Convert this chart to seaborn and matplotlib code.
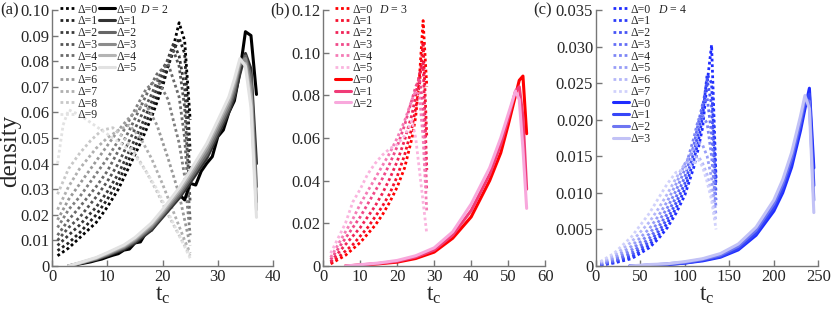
"""
Waiting-time densities for D = 2, 3, 4 (dotted and solid families, one panel each).
"""

import matplotlib
matplotlib.use("Agg")
import matplotlib.pyplot as plt
import seaborn as sns

# ---------------- data: panel (a), D = 2 ----------------
a_dot_x = [
    [1, 3, 5, 8, 10, 12, 14, 16, 18, 20, 21, 22, 23, 24, 25],
    [1, 3, 5, 8, 10, 12, 14, 16, 18, 20, 22, 23, 24, 25],
    [1, 3, 5, 8, 10, 12, 14, 16, 18, 20, 22, 23, 24, 25],
    [1, 3, 5, 8, 10, 12, 14, 16, 18, 20, 22, 23, 24, 25],
    [1, 3, 5, 8, 10, 12, 14, 16, 18, 19, 21, 23, 24, 25],
    [1, 3, 5, 8, 10, 12, 14, 16, 17, 19, 21, 23, 24, 25],
    [1, 3, 5, 8, 10, 12, 14, 16, 17, 19, 21, 23, 24, 25],
    [1, 3, 5, 8, 10, 12, 14, 16, 18, 20, 22, 24, 25],
    [1, 3, 5, 7, 9, 11, 13, 15, 17, 19, 21, 23, 25],
    [1, 2, 3, 5, 7, 9, 11, 13, 15, 17, 19, 21, 23, 25],
]
a_dot_y = [
    [0.004, 0.007, 0.011, 0.017, 0.023, 0.030, 0.039, 0.048, 0.058, 0.070, 0.078, 0.086, 0.095, 0.088, 0.057],
    [0.006, 0.009, 0.013, 0.020, 0.026, 0.033, 0.042, 0.051, 0.061, 0.072, 0.084, 0.089, 0.083, 0.045],
    [0.008, 0.012, 0.016, 0.023, 0.029, 0.036, 0.045, 0.054, 0.064, 0.075, 0.087, 0.082, 0.070, 0.035],
    [0.010, 0.015, 0.019, 0.027, 0.033, 0.040, 0.049, 0.058, 0.067, 0.077, 0.084, 0.078, 0.062, 0.025],
    [0.012, 0.018, 0.023, 0.031, 0.037, 0.045, 0.053, 0.062, 0.071, 0.075, 0.079, 0.066, 0.050, 0.018],
    [0.015, 0.022, 0.027, 0.036, 0.042, 0.049, 0.057, 0.065, 0.069, 0.073, 0.065, 0.048, 0.035, 0.012],
    [0.018, 0.026, 0.032, 0.041, 0.047, 0.053, 0.058, 0.062, 0.063, 0.055, 0.042, 0.028, 0.018, 0.008],
    [0.022, 0.031, 0.038, 0.046, 0.050, 0.053, 0.055, 0.050, 0.042, 0.032, 0.021, 0.010, 0.005],
    [0.028, 0.038, 0.044, 0.049, 0.053, 0.054, 0.050, 0.044, 0.037, 0.029, 0.020, 0.012, 0.004],
    [0.040, 0.055, 0.061, 0.059, 0.056, 0.053, 0.050, 0.047, 0.043, 0.037, 0.030, 0.021, 0.012, 0.003],
]
a_solid0_x = list(range(3, 38))
a_solid0_y = [0.0000, 0.0004, 0.0008, 0.0012, 0.0016, 0.0022, 0.0027, 0.0035, 0.0042, 0.0048,
              0.0062, 0.0066, 0.0090, 0.0094, 0.0130, 0.0140, 0.0170, 0.0195, 0.0225, 0.0245,
              0.0280, 0.0258, 0.0323, 0.0316, 0.0370, 0.0401, 0.0427, 0.0505, 0.0531, 0.0600,
              0.0645, 0.0760, 0.0915, 0.0900, 0.0670]
a_solid_x = [3, 5, 8, 10, 13, 15, 18, 20, 23, 25, 28, 30, 32, 33, 34, 35, 36, 37]
a_solid_y = [
    [0.0, 0.0010, 0.0025, 0.0040, 0.0065, 0.0090, 0.0140, 0.0190, 0.0265, 0.0325, 0.0420, 0.0510, 0.0600, 0.0660, 0.0750, 0.0830, 0.0770, 0.0400],
    [0.0, 0.0010, 0.0027, 0.0043, 0.0070, 0.0096, 0.0148, 0.0198, 0.0275, 0.0338, 0.0435, 0.0525, 0.0615, 0.0680, 0.0780, 0.0820, 0.0740, 0.0310],
    [0.0, 0.0011, 0.0029, 0.0046, 0.0074, 0.0101, 0.0155, 0.0205, 0.0285, 0.0350, 0.0450, 0.0540, 0.0630, 0.0700, 0.0790, 0.0810, 0.0700, 0.0250],
    [0.0, 0.0012, 0.0031, 0.0049, 0.0078, 0.0106, 0.0162, 0.0212, 0.0295, 0.0360, 0.0465, 0.0555, 0.0645, 0.0715, 0.0800, 0.0790, 0.0660, 0.0220],
    [0.0, 0.0013, 0.0033, 0.0052, 0.0082, 0.0111, 0.0168, 0.0220, 0.0305, 0.0372, 0.0478, 0.0568, 0.0660, 0.0730, 0.0810, 0.0780, 0.0620, 0.0190],
]
a_dot_colors = ["#000000", "#222222", "#3a3a3a", "#555555", "#6a6a6a",
                "#808080", "#999999", "#b0b0b0", "#c8c8c8", "#e2e2e2"]
a_solid_colors = ["#000000", "#333333", "#666666", "#8c8c8c", "#b4b4b4", "#e2e2e2"]

# ---------------- data: panel (b), D = 3 ----------------
b_dot_x = [2, 4, 6, 8, 10, 12, 14, 16, 18, 20, 22, 24, 25, 26, 27, 28]
b_dot_y = [
    [0.001, 0.003, 0.005, 0.008, 0.011, 0.015, 0.019, 0.024, 0.030, 0.037, 0.046, 0.060, 0.070, 0.088, 0.115, 0.084],
    [0.0015, 0.004, 0.007, 0.010, 0.014, 0.018, 0.023, 0.028, 0.034, 0.042, 0.052, 0.065, 0.074, 0.085, 0.105, 0.060],
    [0.002, 0.006, 0.010, 0.014, 0.018, 0.023, 0.028, 0.034, 0.041, 0.049, 0.059, 0.071, 0.080, 0.090, 0.095, 0.045],
    [0.003, 0.008, 0.013, 0.018, 0.023, 0.029, 0.035, 0.041, 0.048, 0.056, 0.066, 0.078, 0.084, 0.088, 0.075, 0.035],
    [0.004, 0.010, 0.016, 0.022, 0.029, 0.035, 0.041, 0.047, 0.053, 0.060, 0.068, 0.078, 0.082, 0.080, 0.060, 0.025],
    [0.006, 0.013, 0.020, 0.030, 0.036, 0.043, 0.048, 0.052, 0.055, 0.057, 0.061, 0.068, 0.060, 0.045, 0.030, 0.015],
]
b_solid_x = [6, 10, 15, 20, 25, 30, 35, 40, 45, 48, 50, 52, 53, 54, 55]
b_solid_y = [
    [0, 0.0004, 0.0010, 0.0018, 0.0035, 0.0065, 0.0130, 0.0230, 0.0400, 0.0530, 0.0660, 0.0800, 0.0870, 0.0890, 0.0620],
    [0, 0.0005, 0.0012, 0.0022, 0.0042, 0.0075, 0.0145, 0.0260, 0.0430, 0.0570, 0.0690, 0.0820, 0.0840, 0.0700, 0.0360],
    [0, 0.0006, 0.0014, 0.0026, 0.0048, 0.0085, 0.0160, 0.0290, 0.0460, 0.0600, 0.0710, 0.0820, 0.0780, 0.0550, 0.0270],
]
b_dot_colors = ["#ff0000", "#f5102e", "#f02458", "#f04a8a", "#f47cb6", "#fab4de"]
b_solid_colors = ["#ff0000", "#f03c78", "#f8a8dc"]

# ---------------- data: panel (c), D = 4 ----------------
c_dot_x = [5, 20, 40, 60, 70, 80, 90, 100, 110, 115, 120, 125, 130, 135]
c_dot_y = [
    [0.0001, 0.0004, 0.0010, 0.0025, 0.0037, 0.0052, 0.0072, 0.0097, 0.0135, 0.0160, 0.0190, 0.0250, 0.0302, 0.0120],
    [0.0001, 0.0005, 0.0012, 0.0029, 0.0042, 0.0058, 0.0079, 0.0105, 0.0145, 0.0170, 0.0205, 0.0262, 0.0250, 0.0110],
    [0.0002, 0.0006, 0.0015, 0.0033, 0.0047, 0.0064, 0.0086, 0.0113, 0.0155, 0.0182, 0.0218, 0.0255, 0.0220, 0.0100],
    [0.0002, 0.0007, 0.0018, 0.0038, 0.0053, 0.0071, 0.0094, 0.0122, 0.0165, 0.0195, 0.0222, 0.0230, 0.0180, 0.0090],
    [0.0003, 0.0009, 0.0022, 0.0044, 0.0060, 0.0079, 0.0103, 0.0132, 0.0175, 0.0200, 0.0205, 0.0195, 0.0150, 0.0080],
    [0.0004, 0.0011, 0.0027, 0.0051, 0.0068, 0.0088, 0.0112, 0.0140, 0.0160, 0.0170, 0.0165, 0.0150, 0.0120, 0.0070],
    [0.0005, 0.0014, 0.0033, 0.0060, 0.0078, 0.0098, 0.0120, 0.0140, 0.0148, 0.0150, 0.0140, 0.0125, 0.0100, 0.0060],
    [0.0006, 0.0017, 0.0040, 0.0072, 0.0092, 0.0112, 0.0128, 0.0132, 0.0140, 0.0146, 0.0135, 0.0115, 0.0090, 0.0050],
]
c_solid_x = [38, 60, 80, 100, 120, 140, 160, 180, 200, 210, 220, 230, 235, 240, 245]
c_solid_y = [
    [0, 0.0001, 0.0002, 0.0004, 0.0007, 0.0012, 0.0022, 0.0042, 0.0075, 0.0100, 0.0135, 0.0185, 0.0215, 0.0243, 0.0134],
    [0, 0.0001, 0.0002, 0.0004, 0.0008, 0.0013, 0.0024, 0.0045, 0.0080, 0.0106, 0.0142, 0.0192, 0.0222, 0.0235, 0.0110],
    [0, 0.0001, 0.0003, 0.0005, 0.0009, 0.0015, 0.0027, 0.0049, 0.0085, 0.0112, 0.0148, 0.0198, 0.0228, 0.0225, 0.0090],
    [0, 0.0002, 0.0003, 0.0006, 0.0010, 0.0017, 0.0030, 0.0053, 0.0090, 0.0118, 0.0155, 0.0205, 0.0233, 0.0215, 0.0073],
]
c_dot_colors = ["#1f2cff", "#2c3cfa", "#4654f6", "#636ef6", "#7d86f6", "#989ef7", "#b4b7f9", "#d0d1fb"]
c_solid_colors = ["#1f2cff", "#3646f8", "#6e76f2", "#c2c2f6"]

# ---------------- style ----------------
sns.set_style("ticks")
plt.rcParams["font.family"] = "serif"
plt.rcParams["font.serif"] = ["Liberation Serif", "DejaVu Serif"]
plt.rcParams["mathtext.fontset"] = "custom"
plt.rcParams["mathtext.rm"] = "Liberation Serif"
plt.rcParams["mathtext.it"] = "Liberation Serif:italic"

DOT = (0, (1, 1))
LW_DOT = 2.0
LW_SOLID = 2.2

fig = plt.figure(figsize=(8.31, 3.10), dpi=100)
axes = [
    fig.add_axes([0.0626, 0.142, 0.266, 0.826]),
    fig.add_axes([0.389, 0.142, 0.267, 0.826]),
    fig.add_axes([0.7172, 0.142, 0.2675, 0.826]),
]


def style_axis(ax, xmax, xticks, ymax, yticks, ylabels):
    ax.set_xlim(0, xmax)
    ax.set_ylim(0, ymax)
    ax.set_xticks(xticks)
    ax.set_yticks(yticks)
    ax.set_yticklabels(ylabels)
    sns.despine(ax=ax)
    for s in ("left", "bottom"):
        ax.spines[s].set_color("#777777")
        ax.spines[s].set_linewidth(1.0)
    ax.tick_params(direction="in", length=4, width=1, color="#777777",
                   labelsize=12, pad=2)
    ax.set_xlabel("t$_{\\rm c}$", fontsize=17, labelpad=0)
    ax.set_ylabel("")


def draw(ax, dot_xs, dot_ys, dot_cols, sol_xs, sol_ys, sol_cols):
    dots, sols = [], []
    for i, (xs, ys) in enumerate(zip(dot_xs, dot_ys)):
        sns.lineplot(x=xs, y=ys, ax=ax, color=dot_cols[i], linestyle=DOT,
                     lw=LW_DOT, sort=False, estimator=None)
        dots.append(ax.lines[-1])
    for i, (xs, ys) in enumerate(zip(sol_xs, sol_ys)):
        sns.lineplot(x=xs, y=ys, ax=ax, color=sol_cols[i], linestyle="-",
                     lw=LW_SOLID, sort=False, estimator=None)
        sols.append(ax.lines[-1])
    return dots, sols


leg_kw = dict(frameon=False, fontsize=8.5, labelspacing=-0.02, handlelength=1.35,
              handletextpad=0.15, borderpad=0, borderaxespad=0, loc="upper left")

# (a)
ax = axes[0]
dots, sols = draw(ax, a_dot_x, a_dot_y, a_dot_colors,
                  [a_solid0_x] + [a_solid_x] * 5, [a_solid0_y] + a_solid_y, a_solid_colors)
style_axis(ax, 40, [0, 10, 20, 30, 40], 0.10,
           [0, 0.01, 0.02, 0.03, 0.04, 0.05, 0.06, 0.07, 0.08, 0.09, 0.10],
           ["0", "0.01", "0.02", "0.03", "0.04", "0.05", "0.06", "0.07", "0.08", "0.09", "0.10"])
leg1 = ax.legend(dots, [f"Δ={k}" for k in range(10)], bbox_to_anchor=(0.036, 1.025), **leg_kw)
ax.add_artist(leg1)
ax.legend(sols, [f"Δ={k}" for k in range(6)], bbox_to_anchor=(0.212, 1.025), **leg_kw)
ax.text(0.40, 1.0, "$D$ = 2", transform=ax.transAxes, fontsize=8.5, va="center")
ax.set_ylabel("density", fontsize=18)
ax.yaxis.set_label_coords(-0.14, 0.45)
ax.text(-0.232, 1.0, "(a)", transform=ax.transAxes, fontsize=12, va="center")

# (b)
ax = axes[1]
dots, sols = draw(ax, [b_dot_x] * 6, b_dot_y, b_dot_colors,
                  [b_solid_x] * 3, b_solid_y, b_solid_colors)
style_axis(ax, 60, [0, 10, 20, 30, 40, 50, 60], 0.12,
           [0, 0.02, 0.04, 0.06, 0.08, 0.10, 0.12],
           ["0", "0.02", "0.04", "0.06", "0.08", "0.10", "0.12"])
ax.legend(dots + sols, [f"Δ={k}" for k in range(6)] + [f"Δ={k}" for k in range(3)],
          bbox_to_anchor=(0.053, 1.025), **leg_kw)
ax.text(0.25, 1.0, "$D$ = 3", transform=ax.transAxes, fontsize=8.5, va="center")
ax.text(-0.24, 1.0, "(b)", transform=ax.transAxes, fontsize=12, va="center")

# (c)
ax = axes[2]
dots, sols = draw(ax, [c_dot_x] * 8, c_dot_y, c_dot_colors,
                  [c_solid_x] * 4, c_solid_y, c_solid_colors)
style_axis(ax, 250, [0, 50, 100, 150, 200, 250], 0.035,
           [0, 0.005, 0.010, 0.015, 0.020, 0.025, 0.030, 0.035],
           ["0", "0.005", "0.010", "0.015", "0.020", "0.025", "0.030", "0.035"])
ax.legend(dots + sols, [f"Δ={k}" for k in range(8)] + [f"Δ={k}" for k in range(4)],
          bbox_to_anchor=(0.077, 1.025), **leg_kw)
ax.text(0.277, 1.0, "$D$ = 4", transform=ax.transAxes, fontsize=8.5, va="center")
ax.text(-0.284, 1.0, "(c)", transform=ax.transAxes, fontsize=12, va="center")

fig.savefig("out.png", dpi=100)
